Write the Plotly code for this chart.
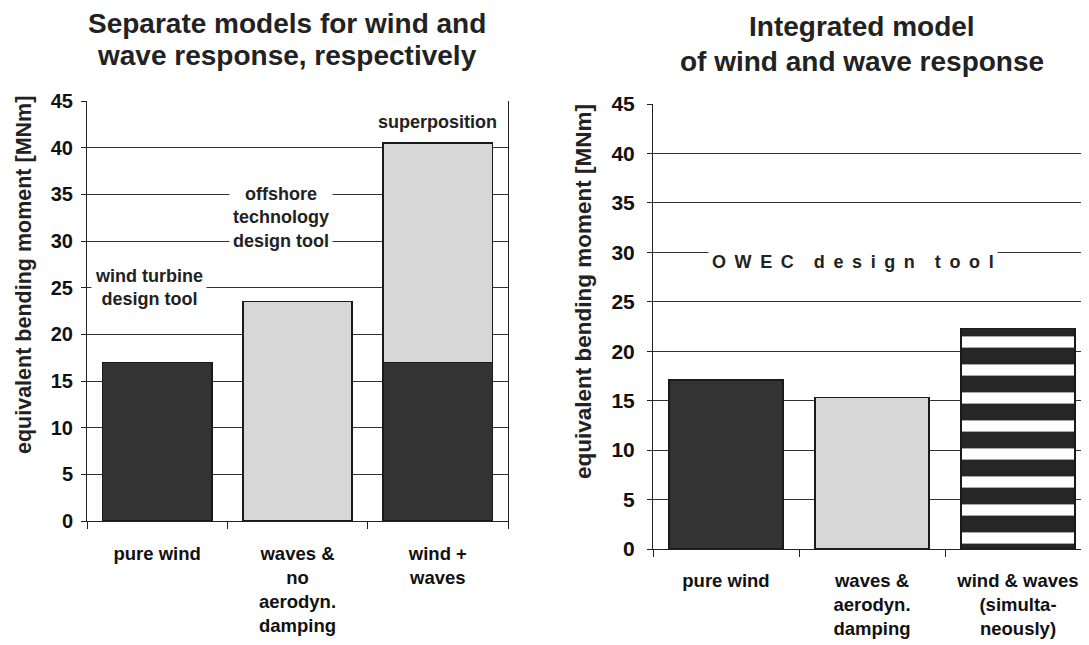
import plotly.graph_objects as go

# ---- data ----
left_categories = ["pure wind", "waves &<br>no<br>aerodyn.<br>damping", "wind +<br>waves"]
left_wind = [17.0, None, 17.0]
left_waves = [None, 23.5, 23.5]

right_categories = ["pure wind", "waves &<br>aerodyn.<br>damping", "wind & waves<br>(simulta-<br>neously)"]
right_values = [17.1, 15.3, 22.3]

y_ticks = [0, 5, 10, 15, 20, 25, 30, 35, 40, 45]

DARK = "#333333"
LIGHT = "#d7d7d7"
EDGE = "#1a1a1a"
FONT = "Liberation Sans"
W, H = 1089, 645
OFF = 8  # page body margin offset


def px(x):
    return (x - OFF) / W


def py(y):
    return 1 - (y - OFF) / H


fig = go.Figure()

fig.add_trace(go.Bar(x=left_categories, y=left_wind, xaxis="x", yaxis="y",
                     marker=dict(color=DARK, line=dict(color=EDGE, width=1.5)),
                     showlegend=False))
fig.add_trace(go.Bar(x=left_categories, y=left_waves, xaxis="x", yaxis="y",
                     marker=dict(color=LIGHT, line=dict(color=EDGE, width=1.5)),
                     showlegend=False))

fig.add_trace(go.Bar(x=right_categories, y=right_values, xaxis="x2", yaxis="y2",
                     marker=dict(color=[DARK, LIGHT, "#262626"],
                                 line=dict(color=EDGE, width=1.5),
                                 pattern=dict(shape=["", "", "-"], fillmode="overlay",
                                              fgcolor="#e2e2e2", fgopacity=1,
                                              size=28, solidity=0.4)),
                     showlegend=False))


def yax(domain, anchor, size, standoff, mirror):
    return dict(domain=domain, anchor=anchor, range=[0, 45], tickvals=y_ticks,
                showgrid=True, gridcolor="#333", gridwidth=1, showline=True,
                linecolor="#222", linewidth=1, mirror=mirror,
                ticks="outside", ticklen=5, tickcolor="#222",
                tickfont=dict(family=FONT, size=size, color="#111", weight="bold"),
                ticklabelstandoff=standoff, zeroline=False, fixedrange=True,
                automargin=False)


def xax(domain, anchor, size, standoff, rng):
    return dict(domain=domain, anchor=anchor, type="category", showline=True,
                linecolor="#222", linewidth=1, ticks="outside", tickson="boundaries",
                ticklen=7, tickcolor="#222",
                tickfont=dict(family=FONT, size=size, color="#111", weight="bold"),
                ticklabelstandoff=standoff, range=rng, fixedrange=True,
                automargin=False)


# right panel: category width 146 px starting at x=653, panel runs to figure edge
r_left = 653
r_right = OFF + W
r_cat = 146.0
r_range = [-0.5, -0.5 + (r_right - r_left) / r_cat]

fig.update_layout(
    width=W, height=H,
    margin=dict(l=0, r=0, t=0, b=0, autoexpand=False),
    paper_bgcolor="white", plot_bgcolor="white",
    barmode="stack", bargap=0.22,
    xaxis=xax([px(87), px(508)], "y", 18.5, 16, [-0.5, 2.5]),
    yaxis=yax([py(521), py(101)], "x", 20, 4, True),
    xaxis2=xax([px(r_left), 1.0], "y2", 18.5, 15, r_range),
    yaxis2=yax([py(549), py(104)], "x2", 21, 8, False),
    font=dict(family=FONT, color="#111"),
)

ann = []
tfont = dict(family=FONT, size=28, weight="bold", color="#222")
# titles (one annotation per line)
for txt, cx, cy in [("Separate models for wind and", 287, 23),
                    ("wave response, respectively", 287, 55),
                    ("Integrated model", 862, 26),
                    ("of wind and wave response", 862, 61)]:
    ann.append(dict(text=txt, x=px(cx), y=py(cy), xref="paper", yref="paper",
                    showarrow=False, font=tfont, xanchor="center", yanchor="middle"))
# y axis titles
ann.append(dict(text="equivalent bending moment [MNm]", textangle=-90,
                x=px(24), y=py(275), xref="paper", yref="paper",
                showarrow=False, font=dict(family=FONT, size=21.5, weight="bold", color="#222"),
                xanchor="center", yanchor="middle"))
ann.append(dict(text="equivalent bending moment [MNm]", textangle=-90,
                x=px(584), y=py(292), xref="paper", yref="paper",
                showarrow=False, font=dict(family=FONT, size=22.5, weight="bold", color="#222"),
                xanchor="center", yanchor="middle"))
# in-plot labels
lab = dict(family=FONT, size=18, weight="bold", color="#222")
ann.append(dict(text="superposition", x=2, y=42.8, xref="x", yref="y",
                showarrow=False, font=lab))
ann.append(dict(text="offshore<br>technology<br>design tool", x=0.88, y=32.5,
                xref="x", yref="y", showarrow=False, font=lab,
                bgcolor="white", borderpad=3))
ann.append(dict(text="wind turbine<br>design tool", x=-0.06, y=25.0,
                xref="x", yref="y", showarrow=False, font=lab,
                bgcolor="white", borderpad=3))
gap = "\u00a0\u2009"
owec = ("\u00a0" * 4).join(gap.join(w) for w in ["OWEC", "design", "tool"])
ann.append(dict(text=owec, x=0.87, y=29.0, xref="x2", yref="y2",
                showarrow=False, font=dict(family=FONT, size=18, weight="bold", color="#222"),
                bgcolor="white", borderpad=3))

fig.update_layout(annotations=ann)

fig.write_html("out.html")
